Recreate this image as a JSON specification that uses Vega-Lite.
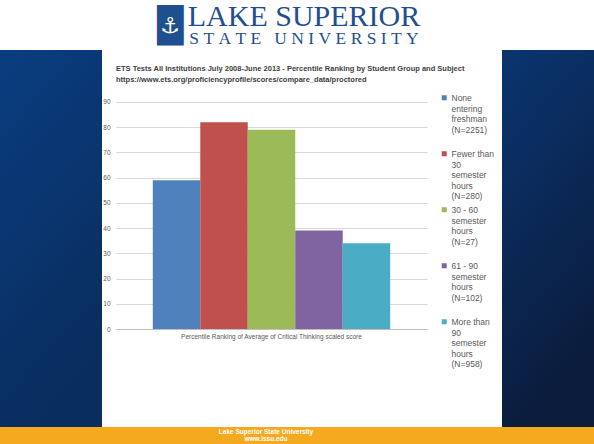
{
  "$schema": "https://vega.github.io/schema/vega-lite/v6.json",
  "background": "white",
  "padding": 0,
  "spacing": 0,
  "config": {
    "view": {"stroke": null},
    "concat": {"spacing": 0},
    "font": "Liberation Sans"
  },
  "resolve": {"scale": {"color": "independent"}, "legend": {"color": "independent"}},
  "vconcat": [
    {
      "width": 594,
      "height": 50,
      "view": {"fill": "white"},
      "layer": [
        {
          "data": {"values": [{"t": "█"}]},
          "mark": {"type": "text", "font": "DejaVu Sans", "fontSize": 34, "color": "#1f4f8f", "dx": -127, "dy": 2, "baseline": "middle"},
          "encoding": {"text": {"field": "t"}}
        },
        {
          "data": {"values": [{"t": "⚓"}]},
          "mark": {"type": "text", "font": "DejaVu Sans", "fontSize": 22, "color": "white", "dx": -127, "dy": 1, "baseline": "middle"},
          "encoding": {"text": {"field": "t"}}
        },
        {
          "data": {"values": [{"t": "LAKE SUPERIOR"}]},
          "mark": {"type": "text", "font": "Liberation Serif", "fontSize": 30, "color": "#1f4f8f", "dx": 7, "dy": -8, "baseline": "middle"},
          "encoding": {"text": {"field": "t"}}
        },
        {
          "data": {"values": [{"t": "S\u00a0T\u00a0A\u00a0T\u00a0E\u00a0\u00a0\u00a0U\u00a0N\u00a0I\u00a0V\u00a0E\u00a0R\u00a0S\u00a0I\u00a0T\u00a0Y"}]},
          "mark": {"type": "text", "font": "Liberation Serif", "fontSize": 17.5, "color": "#1f4f8f", "dx": 7, "dy": 14, "baseline": "middle"},
          "encoding": {"text": {"field": "t"}}
        }
      ]
    },
    {
      "spacing": 0,
      "resolve": {"scale": {"color": "independent"}, "legend": {"color": "independent"}},
      "hconcat": [
        {
          "width": 102,
          "height": 377,
          "view": {"fill": "#0a3878"},
          "data": {"values": [{}]},
          "mark": {
            "type": "rect",
            "fill": {"gradient": "linear", "x1": 0, "y1": 0, "x2": 0.3, "y2": 1,
              "stops": [{"offset": 0, "color": "#0a3d80"}, {"offset": 1, "color": "#092d5e"}]}
          },
          "encoding": {}
        },
        {
          "width": 311,
          "height": 279,
          "title": {
            "text": "ETS Tests All Institutions  July 2008-June 2013 - Percentile Ranking by Student Group and Subject",
            "subtitle": "https://www.ets.org/proficiencyprofile/scores/compare_data/proctored",
            "anchor": "start",
            "frame": "group",
            "font": "Liberation Sans",
            "fontSize": 7.5,
            "fontWeight": "bold",
            "color": "#404040",
            "subtitleFont": "Liberation Sans",
            "subtitleFontSize": 7.5,
            "subtitleFontWeight": "bold",
            "subtitleColor": "#404040",
            "subtitlePadding": 3,
            "offset": -33
          },
          "data": {
            "values": [
              {"measure": "Percentile Ranking of Average of Critical Thinking scaled score", "group": "None entering freshman (N=2251)", "value": 59},
              {"measure": "Percentile Ranking of Average of Critical Thinking scaled score", "group": "Fewer than 30 semester hours (N=280)", "value": 82},
              {"measure": "Percentile Ranking of Average of Critical Thinking scaled score", "group": "30 - 60 semester hours (N=27)", "value": 79},
              {"measure": "Percentile Ranking of Average of Critical Thinking scaled score", "group": "61 - 90 semester hours (N=102)", "value": 39},
              {"measure": "Percentile Ranking of Average of Critical Thinking scaled score", "group": "More than 90 semester hours (N=958)", "value": 34}
            ]
          },
          "mark": {"type": "bar"},
          "encoding": {
            "x": {
              "field": "measure", "type": "nominal", "title": null,
              "scale": {"paddingInner": 0, "paddingOuter": 0.155},
              "axis": {"labelAngle": 0, "ticks": false, "domainColor": "#bfbfbf", "labelFontSize": 6.5, "labelColor": "#595959", "labelPadding": 4, "labelLimit": 0}
            },
            "xOffset": {"field": "group", "type": "nominal", "sort": null, "scale": {"paddingInner": 0, "paddingOuter": 0}},
            "y": {
              "field": "value", "type": "quantitative", "title": null,
              "scale": {"domain": [0, 110.6], "nice": false},
              "axis": {"values": [0, 10, 20, 30, 40, 50, 60, 70, 80, 90], "domain": false, "ticks": false, "labelFontSize": 6.5, "labelColor": "#595959", "labelPadding": 6, "gridColor": "#d9d9d9"}
            },
            "color": {
              "field": "group", "type": "nominal", "sort": null,
              "scale": {"range": ["#4f81bd", "#c0504d", "#9bbb59", "#8064a2", "#4bacc6"]},
              "legend": {
                "title": null,
                "orient": "none",
                "legendX": 317,
                "legendY": 33,
                "padding": 7,
                "symbolType": "M-1,0.4H1V2.4H-1Z",
                "symbolSize": 25,
                "symbolStrokeWidth": 0,
                "labelFontSize": 8.5,
                "labelColor": "#595959",
                "labelBaseline": "top",
                "labelOffset": 3,
                "rowPadding": 1,
                "labelLimit": 0,
                "labelExpr": "datum.label == 'None entering freshman (N=2251)' ? ['None','entering','freshman','(N=2251)',''] : datum.label == 'Fewer than 30 semester hours (N=280)' ? ['Fewer than','30','semester','hours','(N=280)'] : datum.label == '30 - 60 semester hours (N=27)' ? ['30 - 60','semester','hours','(N=27)',''] : datum.label == '61 - 90 semester hours (N=102)' ? ['61 - 90','semester','hours','(N=102)',''] : ['More than','90','semester','hours','(N=958)']"
              }
            }
          }
        },
        {
          "width": 96,
          "height": 377,
          "view": {"fill": "#0a2a5a"},
          "data": {"values": [{}]},
          "mark": {
            "type": "rect",
            "fill": {"gradient": "linear", "x1": 0, "y1": 0, "x2": 0.3, "y2": 1,
              "stops": [{"offset": 0, "color": "#0a3570"}, {"offset": 1, "color": "#0b1c3c"}]}
          },
          "encoding": {}
        }
      ]
    },
    {
      "width": 594,
      "height": 17,
      "view": {"fill": "#f4a91e"},
      "data": {"values": [{"t": ["Lake Superior State University", "www.lssu.edu"]}]},
      "mark": {"type": "text", "font": "Liberation Sans", "fontSize": 6.5, "fontWeight": "bold", "color": "white", "lineHeight": 7.5, "dx": -31, "dy": -4, "baseline": "middle"},
      "encoding": {"text": {"field": "t"}}
    }
  ]
}
